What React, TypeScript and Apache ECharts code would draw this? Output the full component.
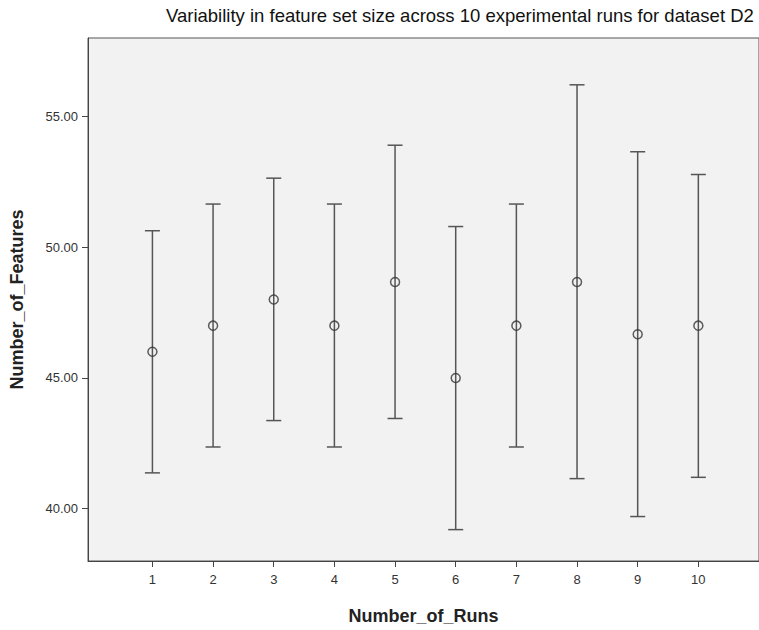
import React, { useEffect, useRef } from "react";
import * as echarts from "echarts";

const runs = [1, 2, 3, 4, 5, 6, 7, 8, 9, 10];
const means = [46, 47, 48, 47, 48.67, 45, 47, 48.67, 46.67, 47];
const upper = [50.63, 51.65, 52.64, 51.65, 53.9, 50.79, 51.65, 56.21, 53.65, 52.78];
const lower = [41.37, 42.36, 43.37, 42.36, 43.45, 39.2, 42.36, 41.15, 39.7, 41.2];
const xTicks = [1, 2, 3, 4, 5, 6, 7, 8, 9, 10];
const yTicks = [40, 45, 50, 55];

const FONT = "'Liberation Sans', Arial, sans-serif";

export default function App() {
  const ref = useRef<HTMLDivElement>(null);
  useEffect(() => {
    if (!ref.current) return;
    const chart = echarts.init(ref.current, null, { renderer: "svg" });
    const barData = runs.map((r, i) => [r, lower[i], upper[i]]);
    const meanData = runs.map((r, i) => [r, means[i]]);
    chart.setOption({
      animation: false,
      backgroundColor: "#ffffff",
      textStyle: { fontFamily: FONT },
      title: {
        text: "Variability in feature set size across 10 experimental runs for dataset D2",
        left: 166,
        top: 6,
        padding: 0,
        textStyle: { fontFamily: FONT, fontSize: 18.5, fontWeight: "normal", color: "#111" },
      },
      grid: {
        left: 80,
        top: 38,
        width: 680,
        height: 534,
        show: true,
        backgroundColor: "#f2f2f2",
        borderColor: "#555",
        borderWidth: 1,
        containLabel: false,
      },
      xAxis: {
        type: "value",
        min: -0.062,
        max: 11,
        axisLine: { show: true, onZero: false, lineStyle: { color: "#444", width: 1 } },
        axisTick: { show: true, length: 6, customValues: xTicks, lineStyle: { color: "#444" } },
        axisLabel: {
          customValues: xTicks,
          fontSize: 13,
          color: "#333",
          margin: 12,
          fontFamily: FONT,
          formatter: (v: number) => String(v),
        },
        splitLine: { show: false },
        name: "Number_of_Runs",
        nameLocation: "middle",
        nameGap: 46,
        nameTextStyle: { fontFamily: FONT, fontSize: 18, fontWeight: "bold", color: "#222" },
      },
      yAxis: {
        type: "value",
        min: 38,
        max: 58,
        axisLine: { show: true, onZero: false, lineStyle: { color: "#444", width: 1 } },
        axisTick: { show: true, length: 6, customValues: yTicks, lineStyle: { color: "#444" } },
        axisLabel: {
          customValues: yTicks,
          fontSize: 13,
          color: "#333",
          margin: 10,
          fontFamily: FONT,
          formatter: (v: number) => v.toFixed(2),
        },
        splitLine: { show: false },
        name: "Number_of_Features",
        nameLocation: "middle",
        nameGap: 62,
        nameRotate: 90,
        nameTextStyle: { fontFamily: FONT, fontSize: 18, fontWeight: "bold", color: "#222" },
      },
      series: [
        {
          type: "custom",
          data: barData,
          encode: { x: 0, y: [1, 2] },
          renderItem: (params: any, api: any) => {
            const x = api.value(0);
            const lo = api.coord([x, api.value(1)]);
            const hi = api.coord([x, api.value(2)]);
            const hw = 7.5;
            const style = { stroke: "#555", lineWidth: 1.5 };
            return {
              type: "group",
              children: [
                { type: "line", shape: { x1: lo[0], y1: lo[1], x2: hi[0], y2: hi[1] }, style },
                { type: "line", shape: { x1: hi[0] - hw, y1: hi[1], x2: hi[0] + hw, y2: hi[1] }, style },
                { type: "line", shape: { x1: lo[0] - hw, y1: lo[1], x2: lo[0] + hw, y2: lo[1] }, style },
              ],
            };
          },
          z: 2,
        },
        {
          type: "scatter",
          data: meanData,
          symbol: "circle",
          symbolSize: 9,
          itemStyle: { color: "rgba(0,0,0,0)", borderColor: "#333", borderWidth: 1.5 },
          z: 3,
        },
      ],
    });
    return () => chart.dispose();
  }, []);
  return (
    <div
      ref={ref}
      style={{ position: "absolute", left: 0, top: 0, width: 759, height: 630 }}
    />
  );
}
